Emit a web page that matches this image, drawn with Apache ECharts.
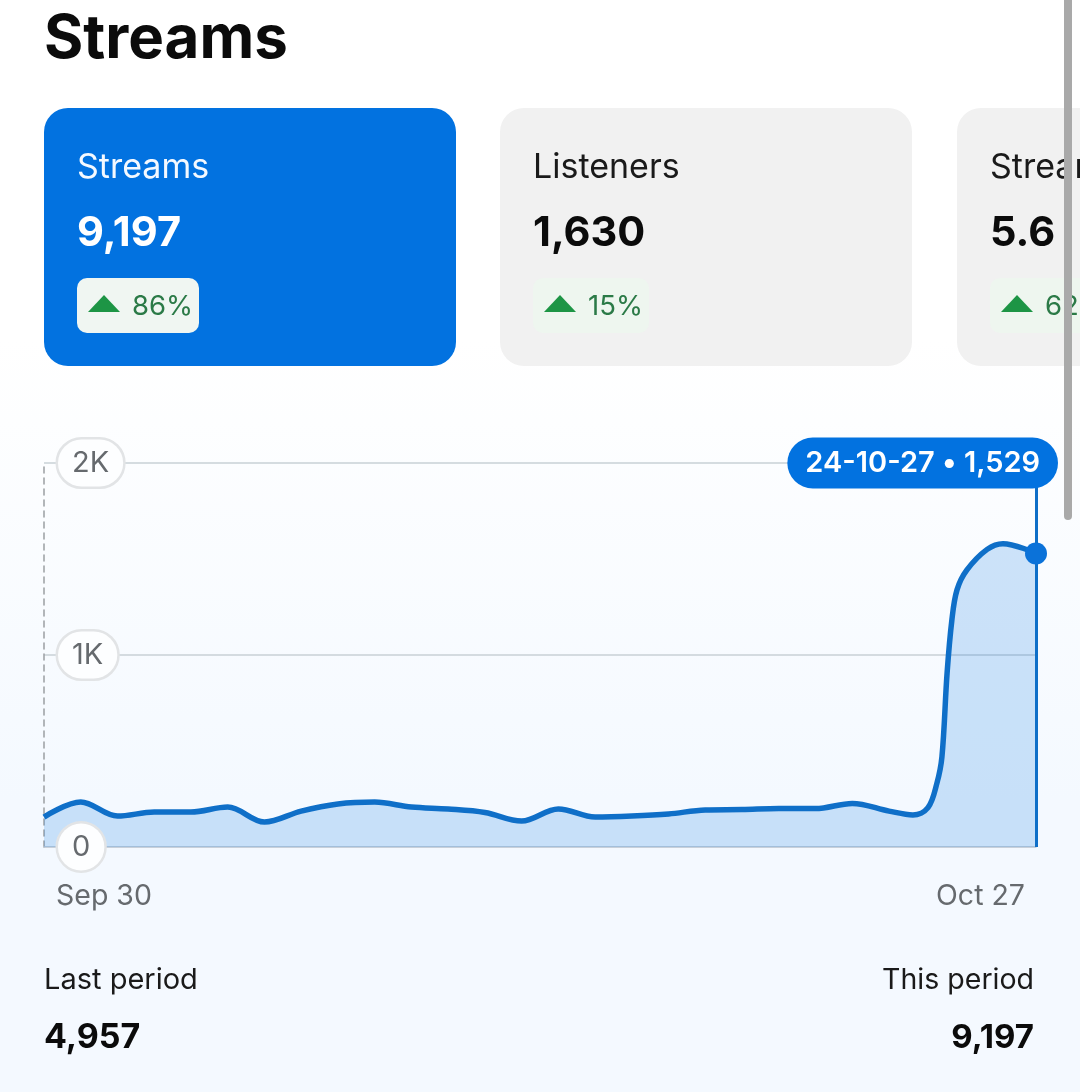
<!DOCTYPE html>
<html><head><meta charset="utf-8">
<style>html,body{margin:0;padding:0;width:1080px;height:1092px;overflow:hidden;background:linear-gradient(180deg,#ffffff 0,#ffffff 340px,#f4f9ff 800px,#f4f9ff 1092px)}#c{width:1080px;height:1092px}</style>
<script src="https://cdn.jsdelivr.net/npm/echarts@6/dist/echarts.min.js"></script>
</head><body><div id="c"></div>
<script>
const dayOffsets=[0,1,2,3,4,5,6,7,8,9,10,11,12,13,14,15,16,17,18,19,20,21,22,23,23.65,24.06,24.3,24.44,24.58,24.71,24.85,25.12,25.67,26.1,27];
const streams=[156,234,161,182,182,208,130,187,224,234,208,198,180,135,198,156,161,172,193,195,200,200,227,187,167,205,330,470,906,1182,1339,1443,1550,1580,1529];
const yTicks={0:'0',1000:'1K',2000:'2K'};
const xLabels={0:'Sep 30',27:'Oct 27'};
const peakDate='24-10-27';
const peakValue=1529;
const cards=[
 {name:'Streams',value:'9,197',delta:'86%'},
 {name:'Listeners',value:'1,630',delta:'15%'},
 {name:'Streams per listener',value:'5.6',delta:'62%'}];
const lastPeriod='4,957', thisPeriod='9,197';

const F='Inter, "Noto Sans", sans-serif';
const T=(x,y,text,size,weight,fill,align)=>({type:'text',x,y,z:10,style:{text,font:`${weight} ${size}px ${F}`,fill,align:align||'left',verticalAlign:'middle'}});
const g=[T(44,40,'Streams',60,700,'#0b0b0b')];
const cardX=[44,500,957];
const badgeW=[122,116,116];
cards.forEach((c,i)=>{
  const x=cardX[i],active=i===0;
  g.push({type:'rect',x,y:108,z:1,shape:{width:412,height:258,r:24},style:{fill:active?'#0272e0':'#f1f1f1'}});
  g.push(T(x+33,168,c.name,34,400,active?'#f4f9ff':'#1a1a1a'));
  g.push(T(x+33,234,c.value,41.5,700,active?'#ffffff':'#0b0b0b'));
  g.push({type:'rect',x:x+33,y:278,z:2,shape:{width:badgeW[i],height:55,r:10},style:{fill:active?'#f0f6f2':'#eef6ef'}});
  g.push({type:'polygon',z:3,shape:{points:[[x+44,312],[x+60,295],[x+76,312]]},style:{fill:'#1d9545'}});
  g.push(T(x+88,307,c.delta,27.5,400,'#2b7a47'));
});
g.push(T(44,980,'Last period',29,400,'#1a1a1a'));
g.push(T(44,1038,lastPeriod,34,700,'#0b0b0b'));
g.push(T(1034,980,'This period',28.5,400,'#1a1a1a','right'));
g.push(T(1034,1038,thisPeriod,33,700,'#0b0b0b','right'));
g.push({type:'rect',x:1064,y:-10,z:20,shape:{width:8,height:530,r:4},style:{fill:'#a9a9a9'}});

const chart=echarts.init(document.getElementById('c'),null,{renderer:'canvas'});
chart.setOption({
 animation:false,
 graphic:{elements:g},
 grid:{left:44,right:44,top:463,height:384,containLabel:false},
 xAxis:{type:'value',min:0,max:27,interval:27,
  axisLine:{show:true,lineStyle:{color:'#c3ccd8',width:1.5}},
  axisTick:{show:false},splitLine:{show:false},
  axisLabel:{show:true,margin:35,color:'#666a6e',fontSize:28.5,fontFamily:F,
   alignMinLabel:'left',alignMaxLabel:'right',padding:[0,11,0,12],
   formatter:v=>xLabels[v]||''}},
 yAxis:[
  {type:'value',min:0,max:2000,interval:1000,z:0,
   axisLine:{show:true,lineStyle:{color:'#9a9ea2',width:1.5,type:[6,5]}},
   axisTick:{show:false},
   splitLine:{show:true,lineStyle:{color:'#c8d0d6',width:1.5}},
   axisLabel:{show:false}},
  {type:'value',min:0,max:2000,interval:1000,z:6,position:'left',
   axisLine:{show:false},axisTick:{show:false},splitLine:{show:false},
   axisLabel:{show:true,inside:true,margin:14,color:'#666a6e',fontSize:29,fontFamily:F,
    backgroundColor:'#fdfeff',borderColor:'#e2e4e6',borderWidth:2.5,borderRadius:25,padding:[10,14,8,14],
    formatter:v=>yTicks[v]||''}}
 ],
 series:[{type:'line',smooth:0.35,showSymbol:false,clip:false,z:3,yAxisIndex:0,
  data:dayOffsets.map((d,i)=>[d,streams[i]]),
  lineStyle:{color:'#0f6fc8',width:5.5},
  areaStyle:{color:'rgba(3,115,224,0.27)'},
  markLine:{silent:true,symbol:'none',animation:false,
   lineStyle:{color:'#0f6fc8',width:3,type:'solid'},label:{show:false},
   data:[[{coord:[27,0]},{coord:[27,2000]}]]},
  markPoint:{silent:true,animation:false,
   data:[
    {coord:[27,peakValue],symbol:'circle',symbolSize:22,itemStyle:{color:'#0b72d9'},label:{show:false}},
    {coord:[27,2000],symbol:'circle',symbolSize:0,
     label:{show:true,position:'left',distance:-22,formatter:peakDate+' • '+peakValue.toLocaleString('en-US'),
      color:'#fff',fontSize:29,fontWeight:600,fontFamily:F,backgroundColor:'#0272e0',borderRadius:26,padding:[12,18,10,18]}}
   ]}
 }]
});
</script></body></html>
